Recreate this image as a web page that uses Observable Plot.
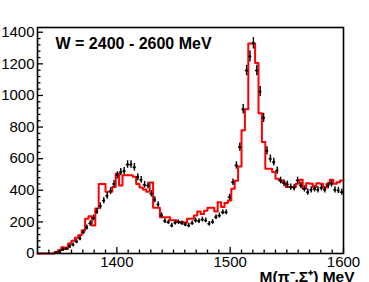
<!DOCTYPE html>
<html><head><meta charset="utf-8">
<script src="https://cdn.jsdelivr.net/npm/d3@7"></script>
<script src="https://cdn.jsdelivr.net/npm/@observablehq/plot@0.6"></script>
<style>body{margin:0;background:#fff;}</style>
</head><body><div id="chart"></div>
<script>
// 3 MeV bins from 1330 to 1600
const binLow = d3.range(1330, 1600, 3);
const redCounts = [
  0,0,0,0,0, 10,20,40,30,63,
  80,100,115,145,220, 235,177,285,440,440,
  390,390,420,505,430, 495,495,495,485,440,
  418,405,390,450,290, 290,230,230,230,210,
  210,200,200,195,220, 220,240,265,250,270,
  290,290,265,325,295, 320,335,410,460,550,
  780,912,1328,1328,1205, 887,705,536,536,515,
  473,462,450,420,420, 420,441,466,409,445,
  441,420,445,441,416, 441,466,441,451,462
];
const dataCounts = [
  null,null,null,null,null, 5,12,25,30,45,
  55,75,95,135,165, 190,225,265,300,335,
  365,395,440,494,515, 521,563,563,546,483,
  466,435,430,378,340, 310,241,205,198,177,
  194,198,192,183,177, 192,209,205,215,209,
  188,200,230,240,261, 261,356,451,557,673,
  912,1158,1247,1330,1158, 1025,858,650,599,578,
  525,462,445,437,420, 416,462,430,409,388,
  403,409,403,416,403, 430,441,403,399,388
];
const dataErrors = [
  null,null,null,null,null, 6,8,10,10,12,
  12,13,14,15,16, 17,18,19,20,20,
  21,22,22,23,23, 23,24,24,24,22,
  22,21,21,20,19, 18,16,15,14,14,
  14,14,14,14,14, 14,15,15,15,15,
  14,15,15,16,16, 16,19,21,23,26,
  30,33,35,36,33, 32,29,26,24,24,
  23,21,21,21,20, 20,21,21,20,20,
  20,20,20,20,20, 21,21,20,20,20
];
const xMajor = [1400, 1500, 1600];
const xMinor = d3.range(1340, 1600, 10).filter(v => v % 100 !== 0);
const yMajor = [0, 200, 400, 600, 800, 1000, 1200, 1400];
const yMinor = d3.range(40, 1430, 40).filter(v => v % 200 !== 0);
const title = "W = 2400 - 2600 MeV";
const xTitle = "M(π⁻,Σ⁺) MeV";

const redStep = binLow.map((x, i) => ({x, y: redCounts[i]})).concat([{x: 1600, y: redCounts[redCounts.length - 1]}]);
const pts = binLow.map((x, i) => ({x: x + 1.5, y: dataCounts[i], e: dataErrors[i]})).filter(d => d.y != null);

const W = 369, H = 282, mL = 37, mR = 26, mT = 27, mB = 29;
const pw = W - mL - mR, ph = H - mT - mB;

const plot = Plot.plot({
  width: W, height: H,
  marginLeft: mL, marginRight: mR, marginTop: mT, marginBottom: mB,
  style: {fontFamily: "'Liberation Sans', Arial, Helvetica, sans-serif", fontSize: "15px", background: "white", overflow: "visible", color: "black"},
  x: {domain: [1330, 1600]},
  y: {domain: [0, 1430]},
  marks: [
    Plot.line(redStep, {x: "x", y: "y", curve: "step-after", stroke: "#ff0000", strokeWidth: 2}),
    Plot.ruleX(pts, {x: "x", y1: d => d.y - d.e, y2: d => d.y + d.e, stroke: "black", strokeWidth: 1.4}),
    Plot.ruleY(pts, {y: "y", x1: d => d.x - 1.2, x2: d => d.x + 1.2, stroke: "black", strokeWidth: 1.2}),
    Plot.dot(pts, {x: "x", y: "y", r: 1.3, fill: "black"}),
    Plot.tickY(yMajor, {y: d => d, insetRight: pw - 6, stroke: "black", strokeWidth: 1.3}),
    Plot.tickY(yMinor, {y: d => d, insetRight: pw - 3.5, stroke: "black", strokeWidth: 1.3}),
    Plot.tickX(xMajor, {x: d => d, insetTop: ph - 6, stroke: "black", strokeWidth: 1.3}),
    Plot.tickX(xMinor, {x: d => d, insetTop: ph - 3.5, stroke: "black", strokeWidth: 1.3}),
    Plot.axisY(yMajor, {tickSize: 0, tickPadding: 3, label: null, fontSize: 15, tickFormat: d => String(d)}),
    Plot.axisX(xMajor, {tickSize: 0, tickPadding: 3, label: null, fontSize: 15, tickFormat: d => String(d)}),
    Plot.frame({stroke: "black", strokeWidth: 1.6}),
    Plot.text([title], {frameAnchor: "top-left", dx: 18, dy: 10, text: d => d, fontWeight: "bold", fontSize: 16, textAnchor: "start", lineAnchor: "top"}),
    Plot.text([xTitle], {frameAnchor: "bottom-right", dx: 11, dy: 28, text: d => d, fontWeight: "bold", fontSize: 15.5, textAnchor: "end", lineAnchor: "bottom"})
  ]
});
document.getElementById("chart").append(plot);
</script>
</body></html>
